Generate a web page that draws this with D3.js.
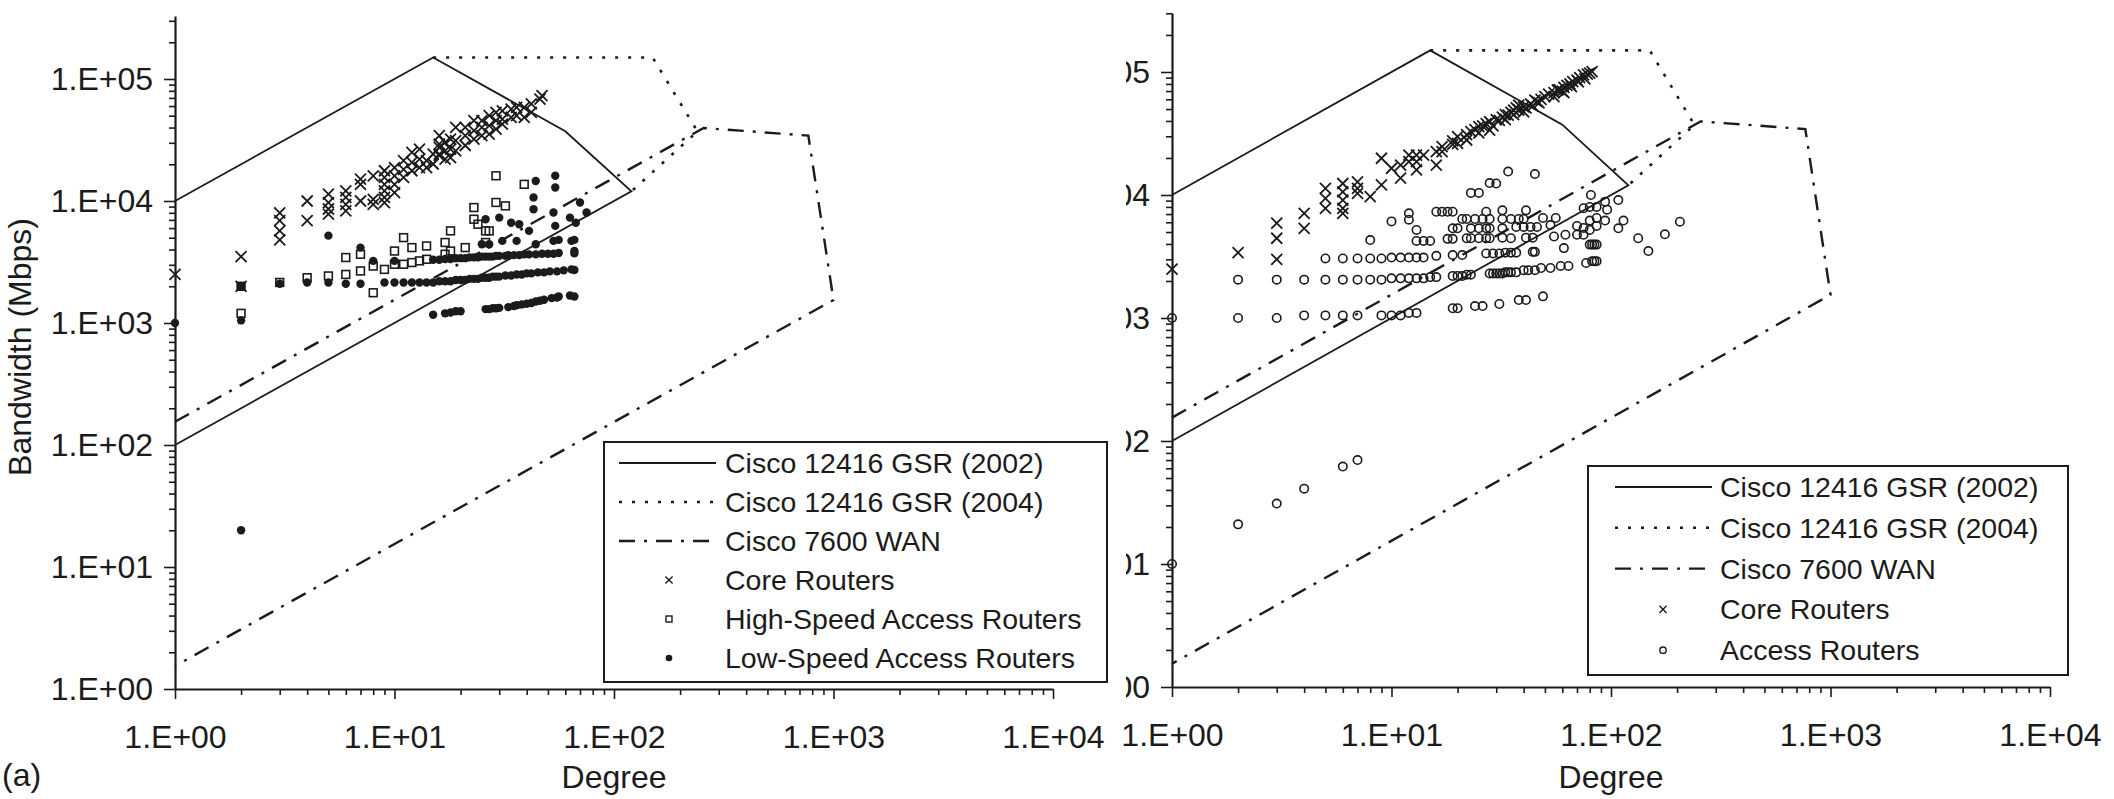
<!DOCTYPE html>
<html>
<head>
<meta charset="utf-8">
<script src="https://cdn.jsdelivr.net/npm/d3@7"></script>
<style>
  html, body { margin: 0; padding: 0; background: #ffffff; }
  svg { display: block; }
</style>
</head>
<body>
<svg id="chart" width="2114" height="799"></svg>
<script>
// ---------------- DATA ----------------
const degreeTicks = [1, 10, 100, 1000, 10000];
const degreeTickLabels = ["1.E+00", "1.E+01", "1.E+02", "1.E+03", "1.E+04"];
const bandwidthTicks = [1, 10, 100, 1000, 10000, 100000];
const bandwidthTickLabels = ["1.E+00", "1.E+01", "1.E+02", "1.E+03", "1.E+04", "1.E+05"];

// technology envelopes: [degree, bandwidth (Mbps)]
const gsr2002Envelope = [[1, 10000], [15, 150000], [60, 37320], [120, 12000], [1, 100]];
const gsr2004Envelope = [[15, 150000], [150, 150000], [240, 37200], [120, 12000]];
const cisco7600Envelope = [[1, 155], [256, 39680], [768, 34330], [1000, 1544], [1, 1.544]];

// panel (a)
const coreRoutersA = [
  [1,2500],[2,3500],[2,2000],
  [3,8000],[3,6900],[3,5700],[3,4800],
  [4,10000],[4,6900],
  [5,11400],[5,9700],[5,8600],[5,7800],
  [6,12100],[6,10700],[6,9400],[6,8300],
  [7,15100],[7,13700],[7,10000],
  [8,16100],[8,10300],[8,9400],
  [9,17700],[9,15600],[9,13700],[9,12100],[9,10700],[9,9700],
  [10,18800],[10,16100],[10,13700],[10,11700],
  [11,21400],[11,18200],[11,15600],
  [12,25000],[12,20700],[12,17700],
  [13,26600],[13,22000],[13,18800],
  [14,21400],[14,18800],
  [15,24200],[15,20100],
  [16,34300],[16,27500],[16,24200],[16,29300],[16,23500],
  [17,30200],[17,25800],[17,22000],
  [18,32200],[18,26600],[18,22700],
  [19,40200],[19,31200],[19,25800],
  [21,40200],[21,34300],[21,28500],
  [23,45500],[23,37700],[23,32200],
  [25,45500],[25,40200],[25,34300],
  [27,50000],[27,41400],[27,35300],
  [29,53200],[29,45500],[29,38800],
  [31,54900],[31,46900],[31,42700],
  [34,56700],[34,48400],
  [36,58500],[36,50000],
  [39,58500],[39,48400],
  [42,62400],[42,53200],
  [46,68500],[47,73000]
];
const highSpeedAccessA = [
  [2,2000],[2,1200],[3,2150],[4,2350],[5,2430],[6,3440],[6,2500],[7,3660],[7,2670],
  [8,2930],[8,1770],[9,2750],[10,3890],[10,3030],[11,5010],[11,3030],[12,4150],[12,3130],
  [13,3230],[14,4280],[14,3330],[17,4570],[17,3660],[18,5690],[18,3890],[21,4150],
  [23,8840],[23,7090],[24,6450],[26,5690],[26,4570],[27,5690],[29,16100],[29,9730],[32,9120],[39,13700]
];
const lowSpeedAccessA = [
  [1,1000],[2,2000],[2,1050],[2,20],[3,2100],[4,2150],[5,5200],[5,2150],[6,2100],[7,4150],[7,2100],
  [8,3230],[9,2150],[10,3230],[10,2150],[11,2150],[12,2150],[13,2150],
  [15,3300],[16,3300],[17,3350],[18,3350],[19,3400],[20,3400],[21,3400],[22,3450],[23,3450],[24,3450],
  [25,3500],[26,3500],[27,3500],[28,3500],[29,3550],[30,3550],[32,3550],[33,3600],[35,3600],[37,3600],
  [39,3650],[41,3650],[44,3650],[47,3700],[50,3700],[53,3700],[56,3750],[66,3730],
  [14,2150],[15,2150],[16,2200],[17,2200],[18,2200],[19,2250],[20,2250],[21,2250],[22,2300],[23,2300],
  [24,2300],[25,2350],[26,2350],[27,2350],[28,2400],[29,2400],[30,2400],[32,2450],[34,2450],[36,2500],
  [38,2500],[40,2550],[42,2550],[45,2600],[48,2600],[51,2650],[55,2650],[59,2700],[64,2750],[66,2720],
  [15,1170],[17,1200],[18,1220],[19,1250],[20,1250],[26,1300],[27,1300],[28,1320],[29,1320],[30,1330],
  [33,1350],[35,1380],[36,1400],[38,1420],[40,1440],[42,1460],[44,1500],[46,1520],[48,1550],[52,1600],
  [55,1620],[56,1650],[63,1680],[66,1650],
  [54,16100],[44,14600],[54,12900],[43,10700],[43,8570],[70,9730],[75,8050],[53,8050],[63,7310],
  [54,6250],[67,6640],[30,7310],[26,7090],[34,6640],[37,6450],[41,5690],[64,4710],[66,3890],
  [53,4710],[44,4420],[31,4710],[36,4710],[25,4420],[27,4420],[56,4800],[66,4800]
];

// panel (b)
const coreRoutersB = [
  [1,2500],[2,3400],[3,5900],[3,4450],[3,3000],[4,7100],[4,5360],
  [5,11300],[5,9400],[5,7800],
  [6,12400],[6,10600],[6,9100],[6,7800],[6,7100],
  [7,12800],[7,11300],[7,10300],
  [8,9700],[9,19900],[9,12100],
  [10,16500],[11,17500],[11,13700],
  [12,21100],[12,18700],[13,21100],[13,18700],[13,16000],[14,21100],
  [16,22500],[16,17500],[17,24700],[17,22500],
  [19,27500],[19,25800],[20,29800],[20,26300],
  [22,31000],[23,32700],[24,34000],[25,35900],[26,36500],[27,38000],
  [28,39400],[28,33700],[30,41000],[31,40500],[32,43000],[33,45000],[34,44700],
  [35,47000],[36,49000],[37,51000],[38,53900],[38,49100],[40,52000],[41,51000],
  [43,55000],[45,59000],[46,57400],[48,60000],[50,63000],[52,66000],[55,68000],
  [57,71400],[58,72000],[61,75000],[61,68000],[63,78000],[65,80000],[67,83400],
  [70,86000],[72,90000],[75,94600],[78,96000],[80,98000],[82,100500],
  [22,28000],[25,32000],[29,36500],[33,41000],[36,45000],[40,47500],[44,53000],[47,56000],
  [55,63000],[60,70000],[66,76000],[71,83000],[76,88000]
];
const accessRoutersB = [
  [1,1000],[1,10],[2,21],[3,31],[4,41],[6,62],[7,70],
  [2,1000],[3,1000],[4,1050],[5,1050],[6,1050],[7,1050],[9,1050],[10,1050],[11,1050],[12,1100],[13,1100],
  [19,1200],[20,1200],[24,1250],[26,1250],[31,1300],[38,1400],[41,1400],[49,1500],
  [2,2050],[3,2050],[4,2050],[5,2050],[6,2050],[7,2050],[8,2050],[9,2050],[10,2100],[11,2100],[12,2100],
  [13,2100],[14,2100],[15,2150],[16,2150],[19,2200],[20,2200],[21,2200],[22,2250],[23,2250],[28,2300],
  [29,2300],[30,2300],[31,2300],[32,2300],[33,2350],[34,2350],[35,2350],[37,2350],[40,2450],[42,2450],
  [45,2450],[48,2550],[53,2550],[59,2650],[64,2650],[77,2800],[82,2900],[84,2900],[86,2900],
  [5,3050],[6,3050],[7,3050],[8,3050],[9,3050],[10,3100],[11,3100],[12,3100],[13,3100],[14,3100],
  [16,3200],[19,3250],[21,3250],[27,3350],[29,3350],[31,3350],[33,3400],[35,3400],[37,3400],[44,3450],
  [45,3450],[61,3700],[80,3950],[82,3950],[84,3950],[86,3950],
  [8,4300],[13,4230],[14,4230],[15,4230],[18,4400],[19,4400],[22,4450],[23,4450],[25,4450],[27,4450],
  [28,4450],[32,4500],[35,4450],[41,4500],[44,4500],[55,4600],[62,4750],[70,4750],[75,4750],
  [13,5200],[19,5360],[20,5360],[23,5360],[25,5360],[27,5360],[28,5360],[32,5360],[37,5500],[40,5500],
  [43,5500],[46,5500],[53,5700],[70,5600],[75,5400],[80,5200],[86,5600],[108,5360],
  [10,6100],[12,6300],[21,6380],[22,6380],[24,6380],[26,6380],[28,6380],[32,6380],[35,6380],[38,6380],
  [40,6380],[49,6500],[56,6500],[80,6200],[86,6500],[94,6200],[114,6200],
  [12,7100],[16,7310],[17,7310],[18,7310],[19,7310],[27,7310],[32,7500],[41,7500],[75,7800],[80,8000],
  [86,8000],[96,7600],
  [81,10000],[94,8830],[108,9100],[23,10400],[25,10400],[28,12500],[30,12400],[34,15500],[45,14800],
  [133,4450],[148,3500],[176,4790],[206,6070]
];

const legendLabelsA = ["Cisco 12416 GSR (2002)", "Cisco 12416 GSR (2004)", "Cisco 7600 WAN",
                       "Core Routers", "High-Speed Access Routers", "Low-Speed Access Routers"];
const legendLabelsB = ["Cisco 12416 GSR (2002)", "Cisco 12416 GSR (2004)", "Cisco 7600 WAN",
                       "Core Routers", "Access Routers"];
const xAxisTitle = "Degree";
const yAxisTitle = "Bandwidth (Mbps)";
const panelTag = "(a)";

// ---------------- DRAWING ----------------
const INK = "#1b1b1b";
const FONT = "'Liberation Sans', Arial, Helvetica, sans-serif";
const svg = d3.select("#chart");

const lineStyles = {
  solid:   { dash: null,        width: 1.8 },
  dotted:  { dash: "3,10",      width: 2.6 },
  dashdot: { dash: "16,9,3,9",  width: 2.4 }
};

function styleLine(sel, st) {
  sel.attr("fill", "none").attr("stroke", INK).attr("stroke-width", st.width);
  if (st.dash) sel.attr("stroke-dasharray", st.dash);
  return sel;
}

function drawMarker(g, kind, cx, cy, s, sw) {
  if (kind === "cross") {
    g.append("path")
      .attr("d", `M${cx - s},${cy - s}L${cx + s},${cy + s}M${cx - s},${cy + s}L${cx + s},${cy - s}`)
      .attr("stroke", INK).attr("stroke-width", sw || 1.8).attr("fill", "none");
  } else if (kind === "square") {
    g.append("rect").attr("x", cx - s).attr("y", cy - s).attr("width", 2 * s).attr("height", 2 * s)
      .attr("fill", "none").attr("stroke", INK).attr("stroke-width", sw || 1.6);
  } else if (kind === "dot") {
    g.append("circle").attr("cx", cx).attr("cy", cy).attr("r", s).attr("fill", INK);
  } else if (kind === "circle") {
    g.append("circle").attr("cx", cx).attr("cy", cy).attr("r", s)
      .attr("fill", "none").attr("stroke", INK).attr("stroke-width", sw || 1.6);
  }
}

function drawPanel(o) {
  const g = svg.append("g");
  const x = d3.scaleLog().domain([1, 1e4]).range([o.xLeft, o.xLeft + 4 * o.xDecade]);
  const yMax = Math.pow(10, (o.yBase - o.yTopPx) / o.yDecade);
  const y = d3.scaleLog().domain([1, yMax]).range([o.yBase, o.yTopPx]);

  const minorX = [];
  for (let k = 0; k < 4; k++) for (let m = 2; m <= 9; m++) minorX.push(m * Math.pow(10, k));
  const minorY = [];
  for (let k = 0; k <= 5; k++) for (let m = 2; m <= 9; m++) {
    const v = m * Math.pow(10, k);
    if (v <= yMax * 1.001) minorY.push(v);
  }

  // --- axes ---
  const gxMinor = g.append("g").attr("transform", `translate(0,${o.yBase})`)
    .call(d3.axisBottom(x).tickValues(minorX).tickSize(6).tickFormat("").tickSizeOuter(0));
  gxMinor.select(".domain").remove();
  const gx = g.append("g").attr("transform", `translate(0,${o.yBase})`)
    .call(d3.axisBottom(x).tickValues(degreeTicks).tickSize(10).tickPadding(26)
      .tickFormat((d, i) => degreeTickLabels[i]).tickSizeOuter(0));

  const yAxisHolder = g.append("g");
  if (o.clipId) yAxisHolder.attr("clip-path", `url(#${o.clipId})`);
  const gyMinor = yAxisHolder.append("g").attr("transform", `translate(${o.xLeft},0)`)
    .call(d3.axisLeft(y).tickValues(minorY).tickSize(6).tickFormat("").tickSizeOuter(0));
  gyMinor.select(".domain").remove();
  const gy = yAxisHolder.append("g").attr("transform", `translate(${o.xLeft},0)`)
    .call(d3.axisLeft(y).tickValues(bandwidthTicks).tickSize(11).tickPadding(11)
      .tickFormat((d, i) => bandwidthTickLabels[i]).tickSizeOuter(0));

  [gx, gy, gxMinor, gyMinor].forEach(a => {
    a.select(".domain").attr("stroke", INK).attr("stroke-width", 2.2);
    a.selectAll(".tick line").attr("stroke", INK).attr("stroke-width", 1.6);
    a.selectAll(".tick text").attr("fill", INK).attr("font-size", 32).attr("font-family", FONT);
  });

  // --- envelopes ---
  const line = d3.line().x(d => x(d[0])).y(d => y(d[1]));
  styleLine(g.append("path").datum(cisco7600Envelope).attr("d", line), lineStyles.dashdot);
  styleLine(g.append("path").datum(gsr2004Envelope).attr("d", line), lineStyles.dotted);
  styleLine(g.append("path").datum(gsr2002Envelope).attr("d", line), lineStyles.solid);

  // --- points ---
  const pts = g.append("g");
  o.series.forEach(s => {
    s.data.forEach(d => drawMarker(pts, s.marker, x(d[0]), y(d[1]), s.size));
  });

  // --- axis title ---
  g.append("text").attr("x", (x.range()[0] + x.range()[1]) / 2).attr("y", o.xTitleY)
    .attr("text-anchor", "middle").attr("font-size", 32).attr("font-family", FONT).attr("fill", INK)
    .text(xAxisTitle);

  // --- legend ---
  const L = o.legend;
  const lg = svg.append("g");
  lg.append("rect").attr("x", L.x0).attr("y", L.y0).attr("width", L.x1 - L.x0).attr("height", L.y1 - L.y0)
    .attr("fill", "#ffffff").attr("stroke", INK).attr("stroke-width", 2);
  L.items.forEach((it, i) => {
    const ry = L.firstRow + i * L.rowGap;
    if (it.line) {
      styleLine(lg.append("path").datum([[L.sx0, ry], [L.sx1, ry]]).attr("d", d3.line()), lineStyles[it.line]);
    } else {
      drawMarker(lg, it.marker, L.mx, ry, it.size, 1.4);
    }
    lg.append("text").attr("x", L.tx).attr("y", ry + 10).attr("font-size", 28.5).attr("font-family", FONT)
      .attr("fill", INK).text(it.label);
  });
  return { x, y };
}

// clip for right panel (its left side is cut off in the figure)
svg.append("defs").append("clipPath").attr("id", "clipB")
  .append("rect").attr("x", 1126).attr("y", 0).attr("width", 1000).attr("height", 799);

drawPanel({
  xLeft: 175, xDecade: 219.5, yBase: 689, yDecade: 122, yTopPx: 16, xTitleY: 788,
  series: [
    { data: coreRoutersA, marker: "cross", size: 5.5 },
    { data: highSpeedAccessA, marker: "square", size: 3.9 },
    { data: lowSpeedAccessA, marker: "dot", size: 4.2 }
  ],
  legend: {
    x0: 604, y0: 442, x1: 1107, y1: 682, firstRow: 463, rowGap: 39,
    sx0: 619, sx1: 716, mx: 669, tx: 725,
    items: [
      { line: "solid", label: legendLabelsA[0] },
      { line: "dotted", label: legendLabelsA[1] },
      { line: "dashdot", label: legendLabelsA[2] },
      { marker: "cross", size: 3.6, label: legendLabelsA[3] },
      { marker: "square", size: 3, label: legendLabelsA[4] },
      { marker: "dot", size: 3.3, label: legendLabelsA[5] }
    ]
  }
});

drawPanel({
  xLeft: 1172, xDecade: 219.5, yBase: 687, yDecade: 123, yTopPx: 13, xTitleY: 788, clipId: "clipB",
  series: [
    { data: coreRoutersB, marker: "cross", size: 5.5 },
    { data: accessRoutersB, marker: "circle", size: 4.2 }
  ],
  legend: {
    x0: 1588, y0: 466, x1: 2068, y1: 675, firstRow: 487, rowGap: 40.8,
    sx0: 1615, sx1: 1712, mx: 1663, tx: 1720,
    items: [
      { line: "solid", label: legendLabelsB[0] },
      { line: "dotted", label: legendLabelsB[1] },
      { line: "dashdot", label: legendLabelsB[2] },
      { marker: "cross", size: 3.6, label: legendLabelsB[3] },
      { marker: "circle", size: 3.2, label: legendLabelsB[4] }
    ]
  }
});

// y-axis title and panel tag
svg.append("text").attr("transform", "translate(31,347) rotate(-90)").attr("text-anchor", "middle")
  .attr("font-size", 32).attr("font-family", FONT).attr("fill", INK).text(yAxisTitle);
svg.append("text").attr("x", 2).attr("y", 786).attr("font-size", 32).attr("font-family", FONT)
  .attr("fill", INK).text(panelTag);
</script>
</body>
</html>
